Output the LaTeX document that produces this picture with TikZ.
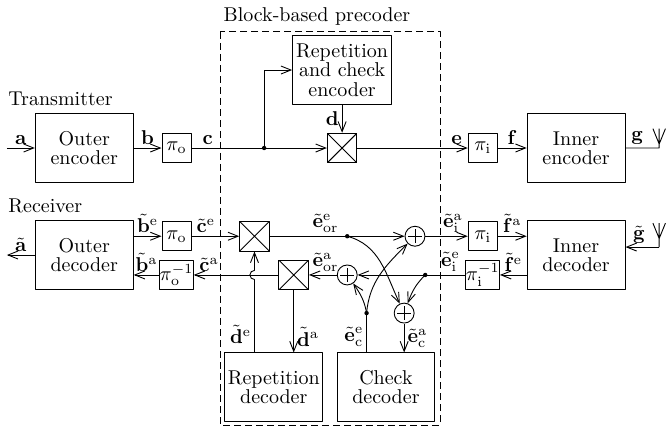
\documentclass[tikz,border=0pt]{standalone}
\usetikzlibrary{positioning, arrows.meta}
\newcommand{\tvec}[1]{\tilde{\mathbf{#1}}}

\begin{document}
\begin{tikzpicture}[
  x=1cm, y=1cm,
  line width=0.45pt, line join=round,
  >={Straight Barb[length=5pt,width=4pt]},
  blk/.style  = {draw, minimum width=1.72cm, minimum height=1.2cm, inner sep=1pt,
                 align=center, anchor=center, font=\fontsize{10}{9.7}\selectfont},
  intl/.style = {draw, minimum size=0.51cm, inner sep=0pt, anchor=center},
  mux/.style  = {draw, minimum size=0.52cm, inner sep=0pt, anchor=center,
                 path picture={\draw (path picture bounding box.north west) -- (path picture bounding box.south east)
                                     (path picture bounding box.north east) -- (path picture bounding box.south west);}},
  sum/.style  = {draw, circle, minimum size=0.35cm, inner sep=0pt, anchor=center,
                 path picture={\draw[shift={(path picture bounding box.center)}]
                                     (-0.12,0) -- (0.12,0) (0,-0.12) -- (0,0.12);}},
  sig/.style  = {inner sep=1.5pt},
  ttl/.style  = {anchor=base west, inner sep=0pt}
]
\useasboundingbox (0,2.60) rectangle (11.70,-4.92);

% 预编码器虚线框
\draw[dash pattern=on 3.5pt off 2pt] (3.87,2.04) rectangle (7.73,-4.87);
\node[ttl] (pretitle) at (3.92,2.23) {Block-based precoder};
\node[ttl] (txtitle)  at (0.14,0.74) {Transmitter};
\node[ttl] (rxtitle)  at (0.14,-1.14) {Receiver};

% 发送端 y=0
\node[blk] (oenc) at (1.48,0) {Outer\\encoder};
\node[intl] (pio) at (3.10,0) {$\pi_{\mathrm{o}}$};
\node[mux] (mux) at (6.01,0) {};
\node[blk, minimum width=1.74cm] (repenc) at (6.01,1.37) {Repetition\\and check\\encoder};
\node[intl] (pii) at (8.48,0) {$\pi_{\mathrm{i}}$};
\node[blk] (ienc) at (10.12,0) {Inner\\encoder};

\coordinate (ain) at (0.12,0);
\coordinate (jtx) at (4.64,0);
\coordinate (gtx) at (11.58,0);

\draw[->] (ain) -- node[sig, above] {$\mathbf{a}$} (oenc.west);
\draw[->] (oenc.east) -- node[sig, above] {$\mathbf{b}$} (pio.west);
\draw[->] (pio.east) -- node[sig, above, pos=0.12] {$\mathbf{c}$} (mux.west);
\draw[->] (jtx) |- (repenc.west);
\draw[->] (repenc.south) -- node[sig, left] {$\mathbf{d}$} (mux.north);
\draw[->] (mux.east) -- node[sig, above, pos=0.9] {$\mathbf{e}$} (pii.west);
\draw[->] (pii.east) -- node[sig, above] {$\mathbf{f}$} (ienc.west);
\draw (ienc.east) -- node[sig, above, pos=0.35] {$\mathbf{g}$} (gtx)
      -- ++(0,0.34) ++(-0.11,0) -- ++(0.11,-0.27) -- ++(0.11,0.27);
\fill (jtx) circle (1.1pt);

% 接收端
\node[blk] (odec) at (1.48,-1.88) {Outer\\decoder};
\node[intl] (pior) at (3.10,-1.55) {$\pi_{\mathrm{o}}$};
\node[intl] (pioinv) at (3.10,-2.23) {$\pi_{\mathrm{o}}^{-1}$};
\node[mux] (mux1) at (4.47,-1.55) {};
\node[mux] (mux2) at (5.16,-2.23) {};
\node[sum] (sum1) at (7.29,-1.55) {};
\node[sum] (sum2) at (6.10,-2.23) {};
\node[sum] (sum3) at (7.10,-2.90) {};
\node[blk] (repdec) at (4.81,-4.20) {Repetition\\decoder};
\node[blk] (chkdec) at (6.78,-4.20) {Check\\decoder};
\node[intl] (piir) at (8.48,-1.55) {$\pi_{\mathrm{i}}$};
\node[intl] (piiinv) at (8.48,-2.23) {$\pi_{\mathrm{i}}^{-1}$};
\node[blk] (idec) at (10.12,-1.88) {Inner\\decoder};

\coordinate (aout) at (0.12,-1.88);
\coordinate (grx) at (11.58,-1.74);
\coordinate (jup) at (6.10,-1.55);
\coordinate (jlow) at (7.47,-2.23);
\coordinate (jchk) at (6.44,-2.90);
\coordinate (hop) at (4.47,-2.23);

% 上行 (外码 -> 内码)
\draw[->] (odec.west) -- node[sig, above] {$\tvec{a}$} (aout);
\draw[->] (odec.east |- pior) -- node[sig, above] {$\tvec{b}^{\mathrm{e}}$} (pior.west);
\draw[->] (pior.east) -- node[sig, above, pos=0.3] {$\tvec{c}^{\mathrm{e}}$} (mux1.west);
\draw[->] (mux1.east) -- (sum1.west);
\node[sig, anchor=south west] (eore) at (5.43,-1.55) {$\tvec{e}^{\mathrm{e}}_{\mathrm{or}}$};
\draw[->] (sum1.east) -- node[sig, above, pos=0.65] {$\tvec{e}^{\mathrm{a}}_{\mathrm{i}}$} (piir.west);
\draw[->] (piir.east) -- node[sig, above] {$\tvec{f}^{\mathrm{a}}$} (idec.west |- piir);

% 下行 (内码 -> 外码)
\draw[->] (idec.west |- piiinv) -- node[sig, above] {$\tvec{f}^{\mathrm{e}}$} (piiinv.east);
\draw[->] (piiinv.west) -- node[sig, above, pos=0.14] {$\tvec{e}^{\mathrm{e}}_{\mathrm{i}}$} (sum2.east);
\draw[->] (sum2.west) -- (mux2.east);
\node[sig, anchor=south west] (eora) at (5.43,-2.23) {$\tvec{e}^{\mathrm{a}}_{\mathrm{or}}$};
\draw[->] (mux2.west) -- node[sig, above, pos=0.82] {$\tvec{c}^{\mathrm{a}}$} (pioinv.east);
\draw[->] (pioinv.west) -- node[sig, above] {$\tvec{b}^{\mathrm{a}}$} (odec.east |- pioinv);

% 重复译码器
\draw[->] (mux2.south) -- node[sig, right, pos=0.75] {$\tvec{d}^{\mathrm{a}}$} (mux2 |- repdec.north);
\draw[->] (mux1 |- repdec.north) -- node[sig, left, pos=0.25] {$\tvec{d}^{\mathrm{e}}$} ([yshift=-0.08cm]hop)
      arc[start angle=270, end angle=90, radius=0.08cm] -- (mux1.south);

% 校验译码器与加法点
\draw (jchk |- chkdec.north) -- node[sig, left, pos=0.4] {$\tvec{e}^{\mathrm{e}}_{\mathrm{c}}$} (jchk);
\draw[->] (jchk) to[out=85, in=225] (sum1);
\draw[->] (jchk) to[out=100, in=-55] (sum2);
\draw[->] (jup) to[out=-15, in=115] (sum3);
\draw[->] (jlow) to[out=225, in=70] (sum3);
\draw[->] (sum3.south) -- node[sig, right] {$\tvec{e}^{\mathrm{a}}_{\mathrm{c}}$} (sum3 |- chkdec.north);
\fill (jup) circle (1.1pt) (jlow) circle (1.1pt) (jchk) circle (1.1pt);

% 接收天线
\draw (grx) -- ++(0,0.42) ++(-0.11,0) -- ++(0.11,-0.27) -- ++(0.11,0.27);
\draw[->] (grx) -- node[sig, above, pos=0.6] {$\tvec{g}$} (idec.east |- grx);

\end{tikzpicture}
\end{document}
